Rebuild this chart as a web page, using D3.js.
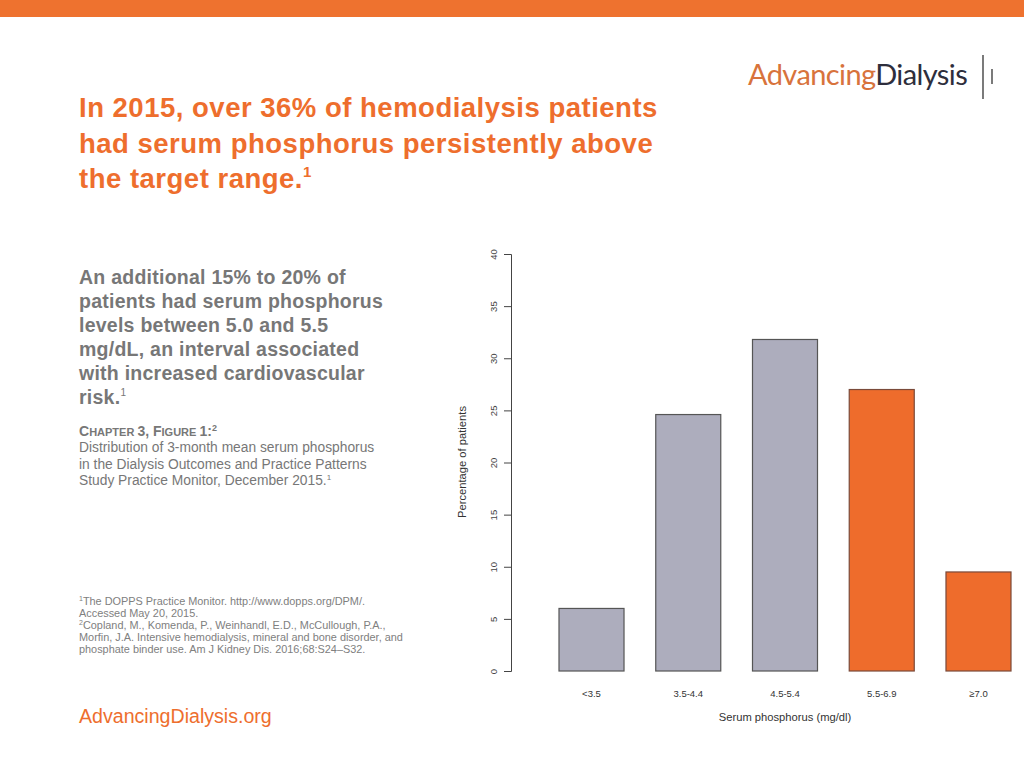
<!DOCTYPE html>
<html><head><meta charset="utf-8">
<script src="https://cdn.jsdelivr.net/npm/d3@7"></script>
<style>body{margin:0;background:#fff}svg{display:block}</style>
</head><body>
<svg id="c" width="1024" height="768"></svg>
<script>
const categories = ["<3.5", "3.5-4.4", "4.5-5.4", "5.5-6.9", "\u22657.0"];
const values = [6.0, 24.6, 31.8, 27.0, 9.5];
const highlighted = [false, false, false, true, true];
const yTicks = [0, 5, 10, 15, 20, 25, 30, 35, 40];

const svg = d3.select("#c");
const orange = "#ee6e2d";
const F = "'Liberation Sans', Arial, Helvetica, sans-serif";

svg.append("rect").attr("x",0).attr("y",0).attr("width",1024).attr("height",17).attr("fill","#ee722f");

// logo
const logo = svg.append("text").attr("x",748).attr("y",85).attr("font-family","Lato, sans-serif").attr("font-size",29).attr("letter-spacing",-0.6);
logo.append("tspan").attr("fill","#d8733c").text("Advancing");
logo.append("tspan").attr("fill","#2e2e3c").text("Dialysis");
svg.append("line").attr("x1",983).attr("x2",983).attr("y1",55).attr("y2",99).attr("stroke","#333").attr("stroke-width",1.3);
svg.append("line").attr("x1",992).attr("x2",992).attr("y1",69).attr("y2",84).attr("stroke","#333").attr("stroke-width",1.3);

// title
const titleLines = ["In 2015, over 36% of hemodialysis patients","had serum phosphorus persistently above","the target range."];
titleLines.forEach((t,i)=>{
  const tx = svg.append("text").attr("x",79).attr("y",117+i*35.5).attr("font-family",F).attr("font-weight","bold").attr("font-size",27.5).attr("letter-spacing",0.5).attr("fill",orange).text(t);
  if(i===2) tx.append("tspan").attr("font-size",15).attr("dy",-11).text("1");
});

// paragraph
const para = ["An additional 15% to 20% of","patients had serum phosphorus","levels between 5.0 and 5.5","mg/dL, an interval associated","with increased cardiovascular","risk."];
para.forEach((t,i)=>{
  const tx = svg.append("text").attr("x",79).attr("y",284+i*24).attr("font-family",F).attr("font-weight","bold").attr("font-size",19.5).attr("letter-spacing",0.25).attr("fill","#777").text(t);
  if(i===5) tx.append("tspan").attr("font-size",10).attr("font-weight","normal").attr("dy",-8).text("1");
});

// caption
const cap = svg.append("text").attr("x",79).attr("y",436).attr("font-family",F).attr("font-weight","bold").attr("fill","#777").attr("font-size",14);
[["C",14],["HAPTER ",11],["3, F",14],["IGURE ",11],["1:",14]].forEach(([s,fs])=>cap.append("tspan").attr("font-size",fs).text(s));
cap.append("tspan").attr("font-size",9).attr("dy",-5).text("2");
const capLines = ["Distribution of 3-month mean serum phosphorus","in the Dialysis Outcomes and Practice Patterns","Study Practice Monitor, December 2015."];
capLines.forEach((t,i)=>{
  const tx = svg.append("text").attr("x",79).attr("y",452+i*16.5).attr("font-family",F).attr("font-size",13.8).attr("fill","#777").text(t);
  if(i===2) tx.append("tspan").attr("font-size",8).attr("dy",-5).text("1");
});

// footnotes
const fn = [["1","The DOPPS Practice Monitor. http://www.dopps.org/DPM/."],["","Accessed May 20, 2015."],["2","Copland, M., Komenda, P., Weinhandl, E.D., McCullough, P.A.,"],["","Morfin, J.A. Intensive hemodialysis, mineral and bone disorder, and"],["","phosphate binder use. Am J Kidney Dis. 2016;68:S24\u2013S32."]];
fn.forEach(([s,t],i)=>{
  const tx = svg.append("text").attr("x",79).attr("y",605+i*12).attr("font-family",F).attr("font-size",10.9).attr("fill","#808080");
  if(s){ tx.append("tspan").attr("font-size",7).attr("dy",-4).text(s); tx.append("tspan").attr("dy",4).text(t);} else tx.text(t);
});

svg.append("text").attr("x",79).attr("y",723).attr("font-family",F).attr("font-size",19.6).attr("fill",orange).text("AdvancingDialysis.org");

// chart
const x = d3.scaleBand().domain(categories).range([559,1011]).paddingInner(0.328).paddingOuter(0);
const y = d3.scaleLinear().domain([0,40]).range([671,254]);

const yAxis = svg.append("g").attr("transform","translate(511,0)")
  .call(d3.axisLeft(y).tickValues(yTicks).tickSize(7).tickPadding(0));
yAxis.select(".domain").attr("stroke","#444");
yAxis.selectAll(".tick line").attr("stroke","#444");
yAxis.selectAll(".tick text").attr("font-family",F).attr("font-size",9.5).attr("fill","#444")
  .attr("transform","translate(-17,0) rotate(-90)").attr("text-anchor","middle").attr("x",0).attr("dy","0.35em");

svg.selectAll("rect.bar").data(values).enter().append("rect").attr("class","bar")
  .attr("x",(d,i)=>x(categories[i])).attr("width",x.bandwidth())
  .attr("y",d=>y(d)).attr("height",d=>y(0)-y(d))
  .attr("fill",(d,i)=>highlighted[i]?"#ee6c2c":"#adadbd")
  .attr("stroke",(d,i)=>highlighted[i]?"#7a4a3a":"#555")
  .attr("stroke-width",1.2);

svg.selectAll("text.xl").data(categories).enter().append("text").attr("class","xl")
  .attr("x",d=>x(d)+x.bandwidth()/2).attr("y",697).attr("text-anchor","middle")
  .attr("font-family",F).attr("font-size",9.5).attr("fill","#333").text(d=>d);

svg.append("text").attr("x",785).attr("y",721).attr("text-anchor","middle").attr("font-family",F).attr("font-size",11.2).attr("fill","#333").text("Serum phosphorus (mg/dl)");
svg.append("text").attr("transform","translate(466,462) rotate(-90)").attr("text-anchor","middle").attr("font-family",F).attr("font-size",11.2).attr("fill","#333").text("Percentage of patients");
</script>
</body></html>
